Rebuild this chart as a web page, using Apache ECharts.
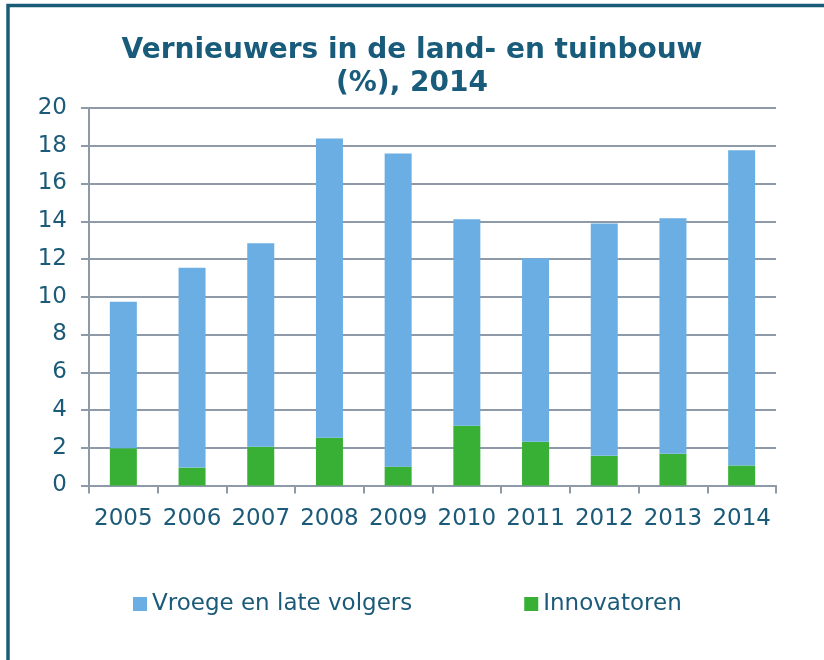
<!DOCTYPE html>
<html>
<head>
<meta charset="utf-8">
<script src="https://cdn.jsdelivr.net/npm/echarts@6/dist/echarts.min.js"></script>
<style>
html,body{margin:0;padding:0;background:#fff;}
#chart{width:824px;height:660px;}
</style>
</head>
<body>
<div id="chart"></div>
<script>
const categories = ['2005','2006','2007','2008','2009','2010','2011','2012','2013','2014'];
const innovatoren = [1.98, 0.95, 2.05, 2.53, 1.0, 3.16, 2.32, 1.57, 1.68, 1.06];
const volgers = [7.76, 10.58, 10.79, 15.86, 16.59, 10.94, 9.72, 12.31, 12.48, 16.70];
const yTicks = [0, 20, 2];

const textColor = '#1b5a78';
const gridColor = '#8e9aa7';
const font = 'DejaVu Sans';

const chart = echarts.init(document.getElementById('chart'));
chart.setOption({
  animation: false,
  backgroundColor: '#ffffff',
  graphic: [{
    type: 'rect',
    shape: { x: 8, y: 5.5, width: 840, height: 700 },
    style: { fill: 'none', stroke: '#1a5b78', lineWidth: 3.5 },
    silent: true
  }],
  title: {
    text: 'Vernieuwers in de land- en tuinbouw\n(%), 2014',
    left: 407,
    textAlign: 'center',
    top: 29,
    textStyle: {
      fontFamily: font,
      fontWeight: 'bold',
      fontSize: 28,
      lineHeight: 33,
      color: '#195b7b'
    }
  },
  legend: {
    data: ['Vroege en late volgers', 'Innovatoren'],
    left: 128,
    top: 587,
    itemWidth: 14,
    itemHeight: 14,
    itemGap: 112,
    icon: 'rect',
    textStyle: { fontFamily: font, fontSize: 23, lineHeight: 24, color: textColor }
  },
  grid: { left: 89, right: 48, top: 108, bottom: 174.5, containLabel: false },
  xAxis: {
    type: 'category',
    data: categories,
    axisLine: { show: true, lineStyle: { color: gridColor, width: 2 } },
    axisTick: { show: true, length: 8, lineStyle: { color: gridColor, width: 2 } },
    axisLabel: { fontFamily: font, fontSize: 23, color: textColor, margin: 22, interval: 0 }
  },
  yAxis: {
    type: 'value',
    min: yTicks[0],
    max: yTicks[1],
    interval: yTicks[2],
    axisLine: { show: true, lineStyle: { color: gridColor, width: 2 } },
    axisTick: { show: true, length: 8, lineStyle: { color: gridColor, width: 2 } },
    splitLine: { show: true, lineStyle: { color: gridColor, width: 2 } },
    axisLabel: { fontFamily: font, fontSize: 23, color: textColor, margin: 22 }
  },
  series: [
    {
      name: 'Innovatoren',
      type: 'bar',
      stack: 'total',
      barWidth: 27,
      data: innovatoren,
      itemStyle: { color: '#37b035' }
    },
    {
      name: 'Vroege en late volgers',
      type: 'bar',
      stack: 'total',
      barWidth: 27,
      data: volgers,
      itemStyle: { color: '#6aaee3' }
    }
  ]
});
</script>
</body>
</html>
